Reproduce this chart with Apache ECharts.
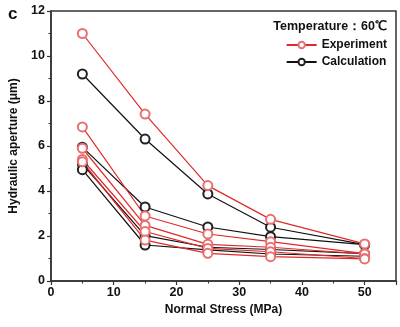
<!DOCTYPE html>
<html><head><meta charset="utf-8">
<script src="https://cdn.jsdelivr.net/npm/echarts@6/dist/echarts.min.js"></script>
<style>html,body{margin:0;padding:0;background:#fff}#c{width:400px;height:327px}</style>
</head><body><div id="c"></div>
<script>
const stress = [5, 15, 25, 35, 50];
const exp1 = [11.0, 7.42, 4.24, 2.74, 1.65];
const exp2 = [6.85, 2.89, 2.09, 1.75, 1.22];
const exp3 = [5.9, 2.47, 1.63, 1.5, 1.2];
const exp4 = [5.4, 2.2, 1.45, 1.3, 1.0];
const exp5 = [5.3, 1.82, 1.23, 1.08, 0.98];
const calc1 = [9.2, 6.31, 3.87, 2.39, 1.62];
const calc2 = [5.95, 3.29, 2.4, 1.97, 1.62];
const calc3 = [5.2, 2.02, 1.5, 1.4, 1.22];
const calc4 = [4.95, 1.6, 1.38, 1.2, 1.1];
const expSets = [exp1, exp2, exp3, exp4, exp5];
const calcSets = [calc1, calc2, calc3, calc4];

const FONT = 'Liberation Sans, Arial, sans-serif';
const pair = arr => stress.map((x, i) => [x, arr[i]]);
const mk = (name, arr, color, sym) => ({
  name, type: 'line', data: pair(arr), symbol: 'emptyCircle', symbolSize: 9,
  lineStyle: {color, width: 1.2}, itemStyle: {color: sym, borderColor: sym, borderWidth: 1}
});
const series = [];
calcSets.forEach(a => series.push(mk('Calculation', a, '#111', '#222')));
expSets.forEach(a => series.push(mk('Experiment', a, '#e02a2a', '#e87070')));

const chart = echarts.init(document.getElementById('c'));
chart.setOption({
  animation: false,
  textStyle: {fontFamily: FONT},
  grid: {left: 50, right: 4, top: 11, bottom: 46, show: true, borderColor: '#333', borderWidth: 1.5},
  title: [
    {text: 'c', left: 3, top: 1, textStyle: {fontSize: 17, fontWeight: 'bold', color: '#111', fontFamily: FONT}},
    {text: 'Temperature：60℃', right: 8, top: 15, textStyle: {fontSize: 12.5, fontWeight: 'bold', color: '#111', fontFamily: FONT}}
  ],
  legend: {
    data: ['Experiment', 'Calculation'], orient: 'vertical', right: 8, top: 34, itemGap: 5,
    itemWidth: 30, itemHeight: 8,
    textStyle: {fontSize: 12, fontWeight: 'bold', color: '#111', fontFamily: FONT}
  },
  xAxis: {
    type: 'value', min: 0, max: 55, interval: 10,
    name: 'Normal Stress (MPa)', nameLocation: 'middle', nameGap: 19,
    nameTextStyle: {fontSize: 12, fontWeight: 'bold', color: '#111'},
    axisLine: {lineStyle: {color: '#333', width: 1.5}},
    axisTick: {length: 4, lineStyle: {color: '#333', width: 1.2}},
    minorTick: {show: true, splitNumber: 2, length: 2.5, lineStyle: {color: '#333'}},
    axisLabel: {fontSize: 12.5, fontWeight: 'bold', color: '#111', margin: 5, showMaxLabel: false},
    splitLine: {show: false}
  },
  yAxis: {
    type: 'value', min: 0, max: 12, interval: 2,
    name: 'Hydraulic aperture (μm)', nameLocation: 'middle', nameGap: 31,
    nameTextStyle: {fontSize: 12, fontWeight: 'bold', color: '#111'},
    axisLine: {lineStyle: {color: '#333', width: 1.5}},
    axisTick: {length: 4, lineStyle: {color: '#333', width: 1.2}},
    minorTick: {show: true, splitNumber: 2, length: 2.5, lineStyle: {color: '#333'}},
    axisLabel: {fontSize: 12.5, fontWeight: 'bold', color: '#111', margin: 6},
    splitLine: {show: false}
  },
  series
});
</script></body></html>
